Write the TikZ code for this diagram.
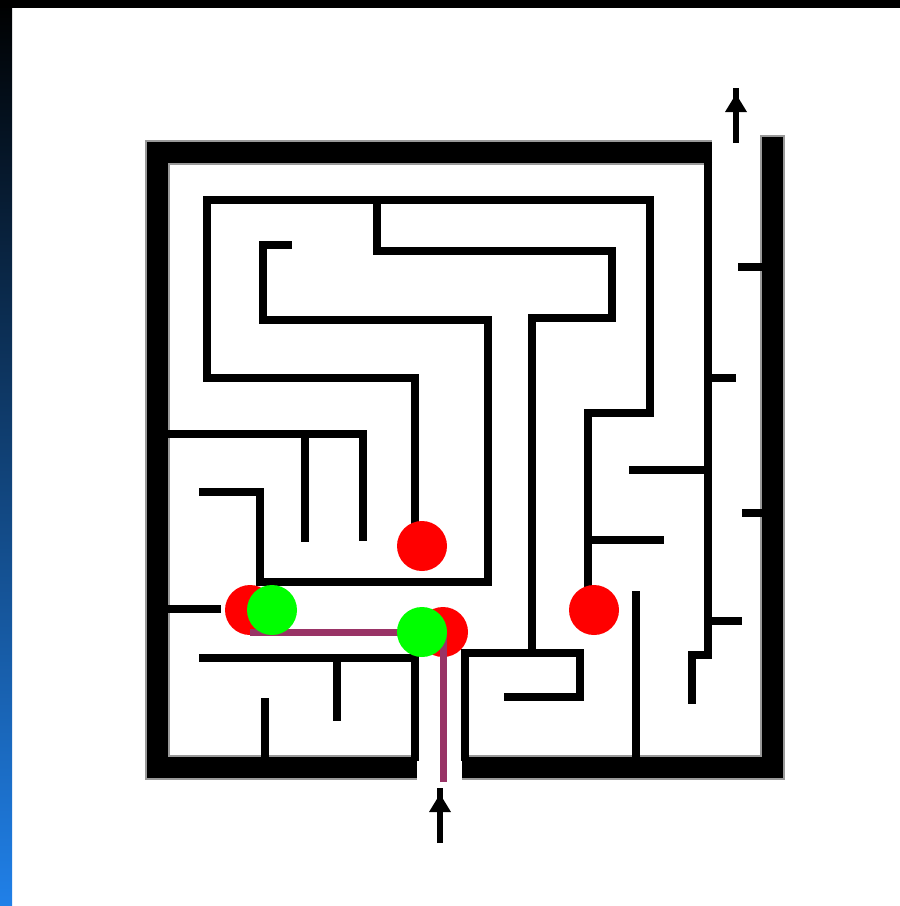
\documentclass[tikz,border=0pt]{standalone}
\usetikzlibrary{calc}
\definecolor{pathcol}{RGB}{153,51,102}
\definecolor{barblue}{RGB}{32,128,232}
\definecolor{dotred}{RGB}{255,0,0}
\definecolor{dotgreen}{RGB}{0,255,0}
\tikzset{
  outerwall/.style={line width=21pt, line join=miter, line cap=butt, black},
  outerhalo/.style={line width=25pt, line join=miter, line cap=butt, black!40},
  wall/.style={line width=7.5pt, line join=miter, line cap=rect, black},
  route/.style={line width=7pt, pathcol, line cap=butt, line join=miter},
  reddot/.style={fill=dotred},
  greendot/.style={fill=dotgreen},
  arrowshaft/.style={line width=5.5pt, black, line cap=butt},
}
\begin{document}
\begin{tikzpicture}[x=1pt,y=-1pt]
\useasboundingbox (0,0) rectangle (900,906);
\fill[white] (0,0) rectangle (900,906);
% frame bars
\shade[top color=black, bottom color=barblue] (0,0) rectangle (12,906);
\fill[black] (0,0) rectangle (900,8);
% outer walls halo
\draw[outerhalo] (712,152.5) -- (157,152.5) -- (157,767.5) -- (417,767.5);
\draw[outerhalo] (462,767.5) -- (772.5,767.5) -- (772.5,135);
% outer walls
\draw[outerwall] (712,152.5) -- (157,152.5) -- (157,767.5) -- (417,767.5);
\draw[outerwall] (462,767.5) -- (772.5,767.5) -- (772.5,137);
% inner walls
\draw[wall] (415,530) -- (415,378) -- (207,378) -- (207,200) -- (650,200) -- (650,413) -- (588,413) -- (588,590);
\draw[wall] (377,200) -- (377,251) -- (612,251) -- (612,318) -- (532,318) -- (532,653);
\draw[wall] (465,757) -- (465,653) -- (580,653) -- (580,697) -- (508,697);
\draw[wall] (288,245) -- (263,245) -- (263,320) -- (488,320) -- (488,582) -- (260,582) -- (260,492) -- (203,492);
\draw[wall] (167,434) -- (363,434) -- (363,537);
\draw[wall] (305,434) -- (305,538);
\draw[wall] (167,609) -- (217,609);
\draw[wall] (203,658) -- (415,658) -- (415,757);
\draw[wall] (337,658) -- (337,717);
\draw[wall] (265,702) -- (265,757);
\draw[wall] (636,595) -- (636,757);
\draw[wall] (708,163) -- (708,655) -- (692,655) -- (692,700);
\draw[wall] (708,378) -- (732,378);
\draw[wall] (633,470) -- (708,470);
\draw[wall] (588,540) -- (660,540);
\draw[wall] (708,621) -- (738,621);
\draw[wall] (742,267) -- (762,267);
\draw[wall] (746,513) -- (762,513);
% arrows
\draw[arrowshaft] (736,143) -- (736,88);
\fill[black] (736,94) -- (747,112) -- (725,112) -- cycle;
\draw[arrowshaft] (440,843) -- (440,788);
\fill[black] (440,794) -- (451,812) -- (429,812) -- cycle;
% red dots
\fill[reddot] (422,546) circle (25);
\fill[reddot] (250,610) circle (25);
\fill[reddot] (443,632) circle (25);
\fill[reddot] (594,610) circle (25);
% route
\draw[route] (443,782) -- (443,632) -- (250,632);
% green dots
\fill[greendot] (272,610) circle (25);
\fill[greendot] (422,632) circle (25);
\end{tikzpicture}
\end{document}
